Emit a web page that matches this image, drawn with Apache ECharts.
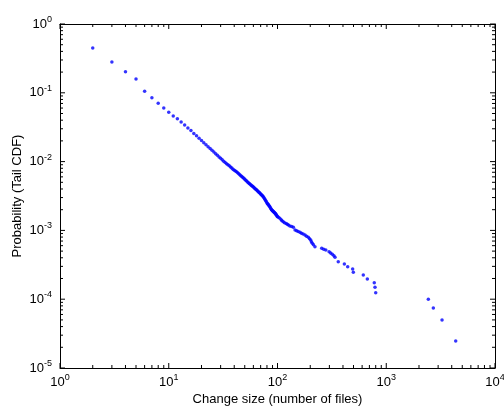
<!DOCTYPE html>
<html>
<head>
<meta charset="utf-8">
<script src="https://cdn.jsdelivr.net/npm/echarts@6/dist/echarts.min.js"></script>
<style>
html,body{margin:0;padding:0;background:#fff;}
#main{width:504px;height:407px;}
</style>
</head>
<body>
<div id="main"></div>
<script>
// change size (number of files)
var sizes = [
  2,3,4,5,6,7,8,9,10,11,12,13,14,15,16,17,18,19,20,
  21,22,23,24,25,26,27,28,29,30,31,32,33,34,35,36,37,38,39,40,
  41,42,43,44,45,46,47,48,49,50,51,52,53,54,55,56,57,58,59,60,
  61,62,63,64,65,66,67,68,69,70,71,72,73,74,75,76,77,78,79,80,
  81,82,83,84,85,86,87,88,89,90,91,92,93,94,95,96,97,98,99,100,
  102,105,108,110,113,116,120,123,126,130,135,140,145,150,155,161,166,172,179,185,
  192,197,202,205,209,214,221,255,266,278,298,308,319,330,338,362,412,442,491,498,
  615,670,776,788,800,2437,2710,3258,4352
];
// probability (tail CDF)
var probs = [
  0.448,0.281,0.203,0.159,0.105,0.0849,0.0703,0.0601,0.0521,0.0460,0.0421,0.0376,0.0339,0.0309,0.0282,0.0257,0.0237,0.0219,0.0202,
  0.0188,0.0176,0.0164,0.0155,0.0146,0.0138,0.0130,0.0124,0.0117,0.0112,0.0106,0.0101,0.00968,0.00933,0.00902,0.00867,0.00836,0.00804,0.00776,0.00750,
  0.00728,0.00711,0.00689,0.00667,0.00646,0.00625,0.00607,0.00589,0.00571,0.00555,0.00537,0.00521,0.00507,0.00494,0.00481,0.00468,0.00457,0.00447,0.00437,0.00427,
  0.00417,0.00407,0.00398,0.00389,0.00380,0.00372,0.00363,0.00355,0.00347,0.00339,0.00331,0.00324,0.00316,0.00309,0.00299,0.00288,0.00279,0.00269,0.00260,0.00251,
  0.00245,0.00240,0.00232,0.00226,0.00221,0.00214,0.00207,0.00202,0.00197,0.00193,0.00190,0.00186,0.00183,0.00180,0.00177,0.00174,0.00170,0.00166,0.00162,0.00158,
  0.00155,0.00150,0.00143,0.00138,0.00134,0.00129,0.00126,0.00123,0.00120,0.00116,0.00114,0.00111,0.00101,0.000989,0.000966,0.000938,0.000912,0.000887,0.000857,0.000822,
  0.000794,0.000759,0.000724,0.000684,0.000650,0.000617,0.000579,0.000550,0.000533,0.000519,0.000490,0.000468,0.000450,0.000427,0.000406,0.000351,0.000325,0.000296,0.000275,0.000246,
  0.000225,0.000197,0.000174,0.000149,0.000124,0.000100,0.0000745,0.0000499,0.0000247
];
var xDecades = [0, 4];
var yDecades = [-5, 0];

var points = [];
for (var i = 0; i < sizes.length; i++) {
  points.push([sizes[i], probs[i]]);
}

var xMin = Math.pow(10, xDecades[0]), xMax = Math.pow(10, xDecades[1]);
var yMin = Math.pow(10, yDecades[0]), yMax = Math.pow(10, yDecades[1]);

// tick values 1..9 x 10^d, the 1s are the long (major) ones
function tickValues(lo, hi) {
  var out = [];
  for (var d = lo; d < hi; d++) {
    for (var k = 1; k <= 9; k++) out.push([k * Math.pow(10, d), k === 1 ? 5 : 3]);
  }
  out.push([Math.pow(10, hi), 5]);
  return out;
}
var xTicks = tickValues(xDecades[0], xDecades[1]);
var yTicks = tickValues(yDecades[0], yDecades[1]);

var FONT = 'Liberation Sans';
var labelRich = {
  b: {fontSize: 13, fontFamily: FONT, color: '#000'},
  s: {fontSize: 9, fontFamily: FONT, color: '#000', verticalAlign: 'bottom', padding: [0, 0, 9, 0]}
};
function powLabel(v) {
  var e = Math.round(Math.log10(v));
  return '{b|10}{s|' + (e < 0 ? '-' + (-e) : e) + '}';
}

function logAxis(pos, min, max, showLabel, extra) {
  var a = {
    type: 'log',
    logBase: 10,
    position: pos,
    min: min,
    max: max,
    splitLine: {show: false},
    axisLine: {show: true, onZero: false, lineStyle: {color: '#000', width: 1}},
    axisTick: {show: false},
    axisLabel: {show: showLabel, formatter: powLabel, rich: labelRich, margin: 8},
    minorTick: {show: false}
  };
  for (var k in extra) a[k] = extra[k];
  return a;
}

// inward tick marks on all four sides (matlab box style)
function tickSeries(dir) {
  return {
    type: 'custom',
    xAxisIndex: 0,
    yAxisIndex: 0,
    silent: true,
    clip: false,
    z: 3,
    data: dir === 'x' ? xTicks : yTicks,
    renderItem: function (params, api) {
      var v = api.value(0), len = api.value(1);
      var s = {stroke: '#000', lineWidth: 1};
      var a, b;
      if (dir === 'x') {
        a = api.coord([v, yMin]);
        b = api.coord([v, yMax]);
        return {type: 'group', children: [
          {type: 'line', shape: {x1: a[0], y1: a[1], x2: a[0], y2: a[1] - len}, style: s},
          {type: 'line', shape: {x1: b[0], y1: b[1], x2: b[0], y2: b[1] + len}, style: s}
        ]};
      }
      a = api.coord([xMin, v]);
      b = api.coord([xMax, v]);
      return {type: 'group', children: [
        {type: 'line', shape: {x1: a[0], y1: a[1], x2: a[0] + len, y2: a[1]}, style: s},
        {type: 'line', shape: {x1: b[0], y1: b[1], x2: b[0] - len, y2: b[1]}, style: s}
      ]};
    },
    encode: dir === 'x' ? {x: 0} : {y: 0}
  };
}

var chart = echarts.init(document.getElementById('main'));
chart.setOption({
  animation: false,
  grid: {left: 60, right: 9, top: 24, bottom: 39, containLabel: false, outerBoundsMode: 'none'},
  xAxis: [
    logAxis('bottom', xMin, xMax, true, {
      name: 'Change size (number of files)',
      nameLocation: 'middle',
      nameGap: 21,
      nameTextStyle: {fontSize: 13, fontFamily: FONT, color: '#000'},
      axisLabel: {show: true, formatter: powLabel, rich: labelRich, margin: 5}
    }),
    logAxis('top', xMin, xMax, false, {})
  ],
  yAxis: [
    logAxis('left', yMin, yMax, true, {
      name: 'Probability (Tail CDF)',
      nameLocation: 'middle',
      nameGap: 36,
      nameMoveOverlap: false,
      nameTextStyle: {fontSize: 13, fontFamily: FONT, color: '#000'}
    }),
    logAxis('right', yMin, yMax, false, {})
  ],
  series: [
    tickSeries('x'),
    tickSeries('y'),
    {
      type: 'scatter',
      xAxisIndex: 0,
      yAxisIndex: 0,
      symbol: 'circle',
      symbolSize: 3.5,
      itemStyle: {color: '#0000ff'},
      data: points
    }
  ]
});
</script>
</body>
</html>
